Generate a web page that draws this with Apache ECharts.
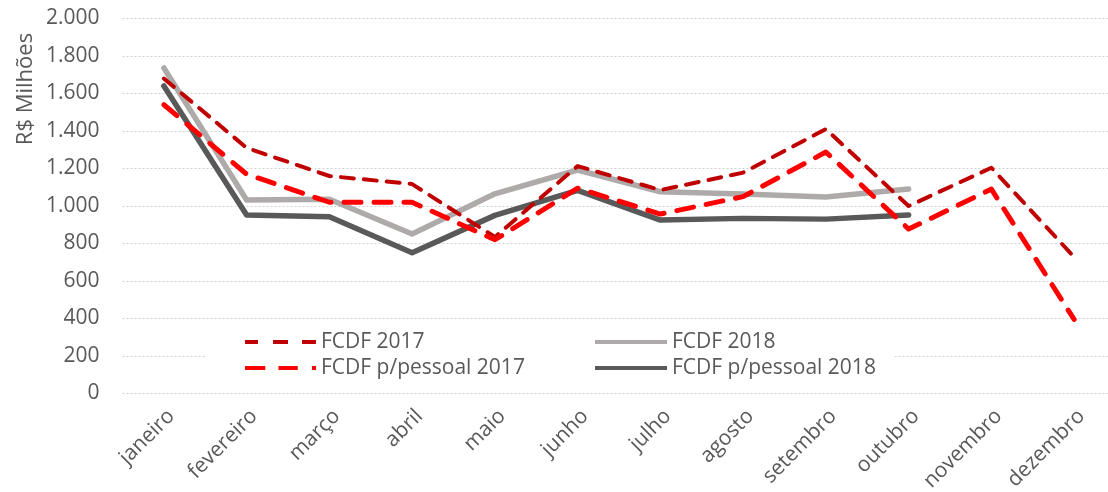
<!DOCTYPE html>
<html>
<head>
<meta charset="utf-8">
<script src="https://cdn.jsdelivr.net/npm/echarts@6/dist/echarts.min.js"></script>
<style>
  html, body { margin: 0; padding: 0; background: #fff; }
  #chart { width: 1108px; height: 492px; }
</style>
</head>
<body>
<div id="chart"></div>
<script>
const categories = ['janeiro', 'fevereiro', 'março', 'abril', 'maio', 'junho', 'julho', 'agosto', 'setembro', 'outubro', 'novembro', 'dezembro'];
const fcdf2017 = [1680, 1310, 1160, 1117, 835, 1213, 1085, 1178, 1410, 1000, 1204, 728];
const fcdfPessoal2017 = [1540, 1170, 1020, 1020, 820, 1095, 957, 1050, 1288, 877, 1090, 395];
const fcdf2018 = [1736, 1032, 1036, 851, 1065, 1192, 1076, 1064, 1048, 1091, null, null];
const fcdfPessoal2018 = [1640, 952, 943, 751, 950, 1083, 925, 934, 930, 952, null, null];
const yTickLabels = ['0', '200', '400', '600', '800', '1.000', '1.200', '1.400', '1.600', '1.800', '2.000'];

const FONT = '"Open Sans", "Noto Sans", sans-serif';
const TXT = '#595959';

// legend icons (dash patterns drawn as paths, 71 units wide)
const ICON_DASH = 'path://M0,0H13V4H0Z M28,0H43V4H28Z M57,0H71V4H57Z';
const ICON_LONGDASH = 'path://M0,0H20V4H0Z M33,0H52V4H33Z M66,0H70V4H66Z';
const ICON_SOLID = 'path://M0,0H71V4H0Z';

const chart = echarts.init(document.getElementById('chart'), null, { renderer: 'canvas' });
chart.setOption({
  animation: false,
  backgroundColor: '#ffffff',
  textStyle: { fontFamily: FONT, color: TXT },
  grid: { left: 122.5, top: 18.5, width: 993, height: 375, containLabel: false, outerBoundsMode: 'none' },
  graphic: [
    { type: 'rect', z: 1, shape: { x: 205, y: 326, width: 690, height: 60 }, style: { fill: '#ffffff' } },
    { type: 'text', z: 5, x: 26, y: 89, rotation: Math.PI / 2,
      style: { text: 'R$ Milhões', fill: TXT, fontSize: 22, fontFamily: FONT, align: 'center', verticalAlign: 'middle' } }
  ],
  legend: [
    {
      data: [
        { name: 'FCDF 2017', icon: ICON_DASH, itemStyle: { color: '#C00000' } },
        { name: 'FCDF p/pessoal 2017', icon: ICON_LONGDASH, itemStyle: { color: '#FF0000' } }
      ],
      orient: 'vertical', left: 245, top: 329, padding: 0, itemGap: 0,
      itemWidth: 71, itemHeight: 5, z: 6,
      textStyle: { fontSize: 21, color: TXT, fontFamily: FONT, lineHeight: 26 }
    },
    {
      data: [
        { name: 'FCDF 2018', icon: ICON_SOLID, itemStyle: { color: '#AEAAAA' } },
        { name: 'FCDF p/pessoal 2018', icon: ICON_SOLID, itemStyle: { color: '#595959' } }
      ],
      orient: 'vertical', left: 595, top: 329, padding: 0, itemGap: 0,
      itemWidth: 72, itemHeight: 6, z: 6,
      textStyle: { fontSize: 21, color: TXT, fontFamily: FONT, lineHeight: 26 }
    }
  ],
  xAxis: {
    type: 'category',
    data: categories,
    boundaryGap: true,
    axisLine: { show: false },
    axisTick: { show: false },
    axisLabel: { rotate: 45, margin: 12, fontSize: 21, color: TXT, fontFamily: FONT, interval: 0,
      verticalAlign: 'top' }
  },
  yAxis: {
    type: 'value',
    min: 0, max: 2000, interval: 200,
    axisLine: { show: false },
    axisTick: { show: false },
    axisLabel: { margin: 23, fontSize: 21, color: TXT, fontFamily: FONT,
      formatter: v => yTickLabels[Math.round(v / 200)] },
    splitLine: { show: true, lineStyle: { color: '#D0D0D0', width: 1, type: [2, 2] } }
  },
  series: [
    {
      name: 'FCDF 2017', type: 'line', data: fcdf2017, symbol: 'none', z: 3,
      lineStyle: { color: '#C00000', width: 4, type: [13, 10], cap: 'round', join: 'round' },
      itemStyle: { color: '#C00000' }
    },
    {
      name: 'FCDF p/pessoal 2017', type: 'line', data: fcdfPessoal2017, symbol: 'none', z: 3,
      lineStyle: { color: '#FF0000', width: 5, type: [17, 13], cap: 'round', join: 'round' },
      itemStyle: { color: '#FF0000' }
    },
    {
      name: 'FCDF 2018', type: 'line', data: fcdf2018, symbol: 'none', z: 2,
      lineStyle: { color: '#AEAAAA', width: 5.5, cap: 'round', join: 'round' },
      itemStyle: { color: '#AEAAAA' }
    },
    {
      name: 'FCDF p/pessoal 2018', type: 'line', data: fcdfPessoal2018, symbol: 'none', z: 2,
      lineStyle: { color: '#595959', width: 5.5, cap: 'round', join: 'round' },
      itemStyle: { color: '#595959' }
    }
  ]
});
</script>
</body>
</html>
